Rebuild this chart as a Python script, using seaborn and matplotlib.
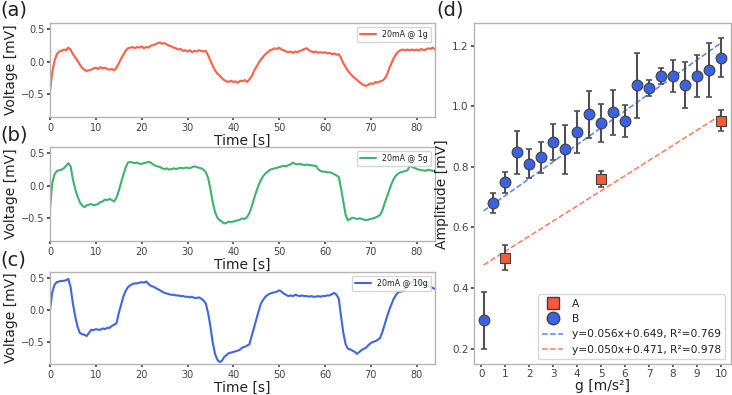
import numpy as np
import pandas as pd
import seaborn as sns
import matplotlib.pyplot as plt
from matplotlib.lines import Line2D

# ---------------------------------------------------------------
# Time traces, sampled every 0.5 s from 0 to 84 s (read off the figure)
# ---------------------------------------------------------------
volt_1g = [
    -0.45, -0.15, 0.02, 0.12, 0.16, 0.17, 0.19, 0.18, 0.22, 0.19,
    0.12, 0.07, 0.02, -0.04, -0.09, -0.12, -0.14, -0.13, -0.12, -0.10,
    -0.09, -0.11, -0.08, -0.10, -0.09, -0.11, -0.12, -0.11, -0.13, -0.09,
    -0.02, 0.05, 0.11, 0.17, 0.21, 0.22, 0.23, 0.21, 0.23, 0.22,
    0.24, 0.21, 0.23, 0.22, 0.25, 0.26, 0.27, 0.29, 0.30, 0.28,
    0.29, 0.27, 0.25, 0.24, 0.22, 0.21, 0.19, 0.20, 0.17, 0.18,
    0.16, 0.18, 0.15, 0.17, 0.16, 0.18, 0.17, 0.16, 0.17, 0.10,
    0.02, -0.06, -0.13, -0.18, -0.21, -0.25, -0.28, -0.30, -0.31, -0.29,
    -0.31, -0.30, -0.32, -0.29, -0.30, -0.28, -0.31, -0.27, -0.22, -0.14,
    -0.08, -0.02, 0.04, 0.08, 0.12, 0.15, 0.18, 0.19, 0.21, 0.20,
    0.22, 0.19, 0.18, 0.16, 0.15, 0.16, 0.14, 0.16, 0.15, 0.17,
    0.18, 0.20, 0.21, 0.18, 0.16, 0.15, 0.16, 0.14, 0.15, 0.14,
    0.15, 0.13, 0.14, 0.12, 0.13, 0.11, 0.12, 0.06, -0.02, -0.08,
    -0.14, -0.18, -0.22, -0.25, -0.28, -0.31, -0.34, -0.36, -0.37, -0.35,
    -0.33, -0.34, -0.31, -0.32, -0.30, -0.29, -0.26, -0.20, -0.10, -0.02,
    0.06, 0.12, 0.16, 0.18, 0.19, 0.18, 0.19, 0.18, 0.19, 0.18,
    0.19, 0.18, 0.20, 0.18, 0.19, 0.21, 0.20, 0.22, 0.19,
]

volt_5g = [
    -0.35, 0.05, 0.18, 0.23, 0.24, 0.25, 0.27, 0.31, 0.35, 0.30,
    0.10, -0.05, -0.16, -0.25, -0.30, -0.33, -0.30, -0.29, -0.28, -0.30,
    -0.29, -0.28, -0.25, -0.24, -0.21, -0.22, -0.20, -0.22, -0.24, -0.18,
    -0.08, 0.05, 0.17, 0.28, 0.36, 0.37, 0.36, 0.35, 0.36, 0.34,
    0.34, 0.35, 0.36, 0.37, 0.36, 0.33, 0.31, 0.30, 0.29, 0.27,
    0.26, 0.27, 0.25, 0.26, 0.27, 0.26, 0.27, 0.28, 0.27, 0.28,
    0.28, 0.27, 0.29, 0.30, 0.29, 0.28, 0.27, 0.25, 0.21, 0.12,
    -0.05, -0.25, -0.40, -0.49, -0.53, -0.55, -0.58, -0.57, -0.55, -0.56,
    -0.55, -0.54, -0.53, -0.52, -0.50, -0.51, -0.48, -0.42, -0.32, -0.20,
    -0.09, 0.01, 0.09, 0.15, 0.19, 0.22, 0.25, 0.26, 0.27, 0.28,
    0.29, 0.30, 0.31, 0.30, 0.32, 0.33, 0.36, 0.34, 0.33, 0.34,
    0.33, 0.32, 0.33, 0.32, 0.32, 0.31, 0.31, 0.26, 0.23, 0.22,
    0.22, 0.21, 0.21, 0.20, 0.18, 0.16, 0.14, -0.04, -0.25, -0.45,
    -0.53, -0.51, -0.49, -0.50, -0.51, -0.50, -0.51, -0.52, -0.53, -0.52,
    -0.51, -0.50, -0.49, -0.47, -0.45, -0.38, -0.27, -0.17, -0.07, 0.03,
    0.11, 0.16, 0.19, 0.21, 0.22, 0.23, 0.24, 0.31, 0.29, 0.28,
    0.26, 0.25, 0.24, 0.24, 0.23, 0.25, 0.24, 0.23, 0.24,
]

volt_10g = [
    0.00, 0.28, 0.40, 0.44, 0.45, 0.46, 0.46, 0.47, 0.49, 0.36,
    0.10, -0.10, -0.26, -0.36, -0.38, -0.39, -0.41, -0.36, -0.31, -0.32,
    -0.30, -0.31, -0.31, -0.29, -0.30, -0.28, -0.28, -0.25, -0.23, -0.21,
    -0.05, 0.08, 0.21, 0.30, 0.36, 0.39, 0.41, 0.42, 0.42, 0.43,
    0.44, 0.43, 0.45, 0.41, 0.38, 0.37, 0.35, 0.33, 0.31, 0.29,
    0.27, 0.26, 0.25, 0.24, 0.24, 0.23, 0.23, 0.22, 0.22, 0.21,
    0.21, 0.20, 0.21, 0.19, 0.19, 0.20, 0.18, 0.15, 0.10, -0.05,
    -0.26, -0.51, -0.69, -0.78, -0.82, -0.80, -0.74, -0.71, -0.68, -0.67,
    -0.66, -0.65, -0.64, -0.62, -0.59, -0.58, -0.56, -0.54, -0.41, -0.28,
    -0.15, -0.02, 0.10, 0.16, 0.21, 0.24, 0.26, 0.27, 0.28, 0.29,
    0.31, 0.29, 0.26, 0.24, 0.22, 0.23, 0.22, 0.24, 0.23, 0.22,
    0.23, 0.22, 0.22, 0.21, 0.22, 0.21, 0.21, 0.22, 0.21, 0.22,
    0.22, 0.23, 0.23, 0.25, 0.27, 0.24, 0.18, -0.10, -0.36, -0.54,
    -0.61, -0.62, -0.64, -0.66, -0.69, -0.66, -0.63, -0.61, -0.59, -0.55,
    -0.52, -0.50, -0.49, -0.47, -0.44, -0.35, -0.23, -0.11, 0.00, 0.09,
    0.18, 0.24, 0.28, 0.29, 0.30, 0.34, 0.38, 0.41, 0.44, 0.45,
    0.45, 0.44, 0.43, 0.42, 0.41, 0.39, 0.37, 0.35, 0.33,
]

trace_labels = ["20mA @ 1g", "20mA @ 5g", "20mA @ 10g"]
trace_colors = ["#ff5f45", "#3cb46e", "#3f66e0"]

# ---------------------------------------------------------------
# Panel (d): amplitude vs acceleration
# ---------------------------------------------------------------
g_A = [1.0, 5.0, 10.0]
amp_A = [0.50, 0.76, 0.953]
err_A = [0.042, 0.028, 0.036]

g_B = [0.1, 0.5, 1.0, 1.5, 2.0, 2.5, 3.0, 3.5, 4.0, 4.5, 5.0,
       5.5, 6.0, 6.5, 7.0, 7.5, 8.0, 8.5, 9.0, 9.5, 10.0]
amp_B = [0.294, 0.680, 0.749, 0.848, 0.811, 0.831, 0.882, 0.858, 0.915, 0.973, 0.946,
         0.980, 0.951, 1.070, 1.060, 1.100, 1.100, 1.070, 1.100, 1.120, 1.160]
err_B = [0.094, 0.033, 0.034, 0.070, 0.047, 0.052, 0.058, 0.080, 0.070, 0.078, 0.063,
         0.074, 0.053, 0.107, 0.026, 0.025, 0.052, 0.077, 0.068, 0.088, 0.064]

fit_x = [0.1, 10.0]
fit_B = (0.056, 0.649, 0.769)
fit_A = (0.050, 0.471, 0.978)

red = "#f95a3a"
blue = "#3b63e0"

sns.set_theme(style="ticks", rc={
    "axes.edgecolor": "#b4b4b4",
    "axes.linewidth": 1.0,
    "xtick.color": "#444444",
    "ytick.color": "#444444",
    "xtick.major.size": 2.5,
    "ytick.major.size": 2.5,
    "xtick.major.pad": 1.5,
    "ytick.major.pad": 1.5,
    "text.color": "#222222",
    "axes.labelcolor": "#222222",
})
plt.rcParams["font.family"] = ["DejaVu Sans"]

fig = plt.figure(figsize=(7.32, 3.95), dpi=100)

left_boxes = [
    [0.0683, 0.7038, 0.526, 0.238],
    [0.0683, 0.3899, 0.526, 0.238],
    [0.0683, 0.0785, 0.526, 0.233],
]
traces = [volt_1g, volt_5g, volt_10g]

for box, vals, lab, col in zip(left_boxes, traces, trace_labels, trace_colors):
    ax = fig.add_axes(box)
    t = np.linspace(0, 84, len(vals))
    df = pd.DataFrame({"t": t, "v": vals})
    sns.lineplot(data=df, x="t", y="v", ax=ax, color=col, lw=1.5, label=lab)
    ax.set_xlim(0, 84)
    ax.set_ylim(-0.85, 0.6)
    ax.set_xticks(range(0, 81, 10))
    ax.set_yticks([-0.5, 0.0, 0.5])
    ax.tick_params(labelsize=7)
    ax.set_xlabel("Time [s]", fontsize=10, labelpad=1)
    ax.set_ylabel("Voltage [mV]", fontsize=10, labelpad=2)
    ax.legend(loc="upper right", fontsize=5.7, frameon=True, edgecolor="#cccccc")

# panel (d)
axd = fig.add_axes([0.6475, 0.0775, 0.3505, 0.8643])
axd.errorbar(g_B, amp_B, yerr=err_B, fmt="none", ecolor="#505050",
             elinewidth=1.5, capsize=2, capthick=1.2, zorder=2)
axd.errorbar(g_A, amp_A, yerr=err_A, fmt="none", ecolor="#505050",
             elinewidth=1.5, capsize=2, capthick=1.2, zorder=2)

fit_df = pd.DataFrame({
    "x": fit_x + fit_x,
    "y": [fit_B[0] * x + fit_B[1] for x in fit_x] + [fit_A[0] * x + fit_A[1] for x in fit_x],
    "fit": ["B", "B", "A", "A"],
})
sns.lineplot(data=fit_df[fit_df.fit == "B"], x="x", y="y", ax=axd,
             color="#5a82f0", lw=1.1, ls="--", zorder=1)
sns.lineplot(data=fit_df[fit_df.fit == "A"], x="x", y="y", ax=axd,
             color="#ff7a5c", lw=1.1, ls="--", zorder=1)

sns.scatterplot(x=g_A, y=amp_A, ax=axd, marker="s", s=48, color=red,
                edgecolor="#404040", linewidth=0.8, zorder=3)
sns.scatterplot(x=g_B, y=amp_B, ax=axd, marker="o", s=60, color=blue,
                edgecolor="#404040", linewidth=0.8, zorder=3)

axd.set_xlim(-0.3, 10.4)
axd.set_ylim(0.148, 1.275)
axd.set_xticks(range(0, 11))
axd.set_yticks([0.2, 0.4, 0.6, 0.8, 1.0, 1.2])
axd.tick_params(labelsize=7.5)
axd.tick_params(axis="x", pad=0.8)
axd.set_xlabel("g [m/s²]", fontsize=10, labelpad=0)
axd.set_ylabel("Amplitude [mV]", fontsize=10, labelpad=2)

handles = [
    Line2D([], [], marker="s", ls="", color=red, mec="#404040", ms=8),
    Line2D([], [], marker="o", ls="", color=blue, mec="#404040", ms=9),
    Line2D([], [], ls="--", color="#5a82f0", lw=1.1),
    Line2D([], [], ls="--", color="#ff7a5c", lw=1.1),
]
labels = [
    "A",
    "B",
    f"y={fit_B[0]:.3f}x+{fit_B[1]:.3f}, R²={fit_B[2]:.3f}",
    f"y={fit_A[0]:.3f}x+{fit_A[1]:.3f}, R²={fit_A[2]:.3f}",
]
axd.legend(handles, labels, loc="lower right", fontsize=7.7, edgecolor="#cccccc")

# panel letters
fig.text(0.0, 0.998, "(a)", fontsize=14, va="top", ha="left")
fig.text(0.0, 0.683, "(b)", fontsize=14, va="top", ha="left")
fig.text(0.0, 0.365, "(c)", fontsize=14, va="top", ha="left")
fig.text(0.596, 0.998, "(d)", fontsize=14, va="top", ha="left")

fig.savefig("out.png", dpi=100)
